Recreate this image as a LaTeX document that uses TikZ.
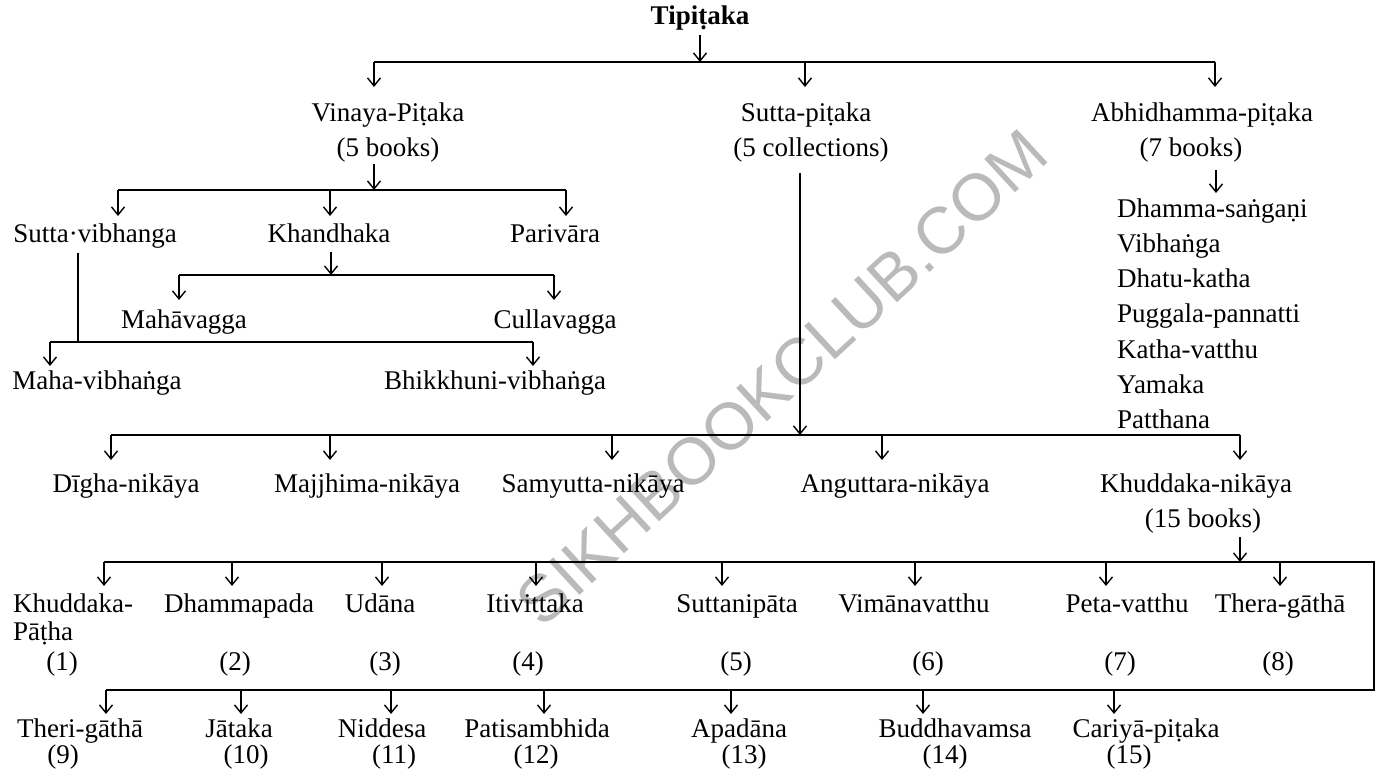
\documentclass[tikz,border=0pt]{standalone}
\usepackage{fontspec}
\setmainfont{Liberation Serif}
\newfontfamily\wmfont{Liberation Sans}
\usetikzlibrary{arrows.meta}
\begin{document}
\begin{tikzpicture}[x=1pt,y=-1pt,
  lbl/.style={inner sep=0pt, anchor=base, font=\fontsize{27}{33}\selectfont},
  lst/.style={lbl, anchor=base west},
  bar/.style={line width=2.6pt},
  stem/.style={line width=2.2pt},
  arr/.style={line width=1.4pt, -{Straight Barb[length=8pt,width=13pt,line width=1.4pt]}},
  stemarr/.style={line width=2.2pt, -{Straight Barb[length=8pt,width=13pt,line width=1.4pt]}}]
\fill[white] (0,0) rectangle (1375,775);
\useasboundingbox (0,0) rectangle (1375,775);
% watermark
\node[rotate=42.7, text=black!27, inner sep=0pt, font=\wmfont\fontsize{66}{66}\selectfont] (wm) at (782,378) {SIKHBOOKCLUB.COM};

% top
\node[lbl, font=\fontsize{27}{33}\selectfont\bfseries] (T) at (700,25) {Tipiṭaka};
\coordinate (ts) at (700,35);
\coordinate (tb) at (700,62);
\draw[arr] (ts) -- (tb);
\draw[bar] (374,62) -- (1215,62);
\node[lbl] (VP) at (388,122) {Vinaya-Piṭaka};
\node[lbl] (VPn) at (388,157) {(5 books)};
\node[lbl] (SP) at (806,122) {Sutta-piṭaka};
\node[lbl] (SPn) at (811,157) {(5 collections)};
\node[lbl] (AP) at (1202,122) {Abhidhamma-piṭaka};
\node[lbl] (APn) at (1191,157) {(7 books)};
\draw[arr] (374,62) -- (374,87);
\draw[arr] (805,62) -- (805,87);
\draw[arr] (1215,62) -- (1215,87);

% Vinaya branch
\draw[arr] (374,164) -- (374,190);
\draw[bar] (118,190) -- (566,190);
\node[lbl] (SV) at (95,243) {Sutta·vibhanga};
\node[lbl] (KH) at (329,243) {Khandhaka};
\node[lbl] (PV) at (555,243) {Parivāra};
\draw[arr] (118,190) -- (118,216);
\draw[arr] (330,190) -- (330,216);
\draw[arr] (566,190) -- (566,216);

\draw[arr] (331,252) -- (331,275);
\draw[bar] (179,275) -- (554,275);
\draw[arr] (179,275) -- (179,300);
\draw[arr] (554,275) -- (554,300);
\node[lbl] (MV) at (184,329) {Mahāvagga};
\node[lbl] (CV) at (555,329) {Cullavagga};

\draw[stem] (78,253) -- (78,342);
\draw[bar] (50,342) -- (533,342);
\draw[arr] (50,342) -- (50,366);
\draw[arr] (533,342) -- (533,366);
\node[lbl] (MHV) at (97,389) {Maha-vibhaṅga};
\node[lbl] (BV) at (495,389) {Bhikkhuni-vibhaṅga};

% Abhidhamma list
\draw[arr] (1216,170) -- (1216,193);
\node[lst] (A1) at (1117,218) {Dhamma-saṅgaṇi};
\node[lst] (A2) at (1117,253) {Vibhaṅga};
\node[lst] (A3) at (1117,288) {Dhatu-katha};
\node[lst] (A4) at (1117,323) {Puggala-pannatti};
\node[lst] (A5) at (1117,358) {Katha-vatthu};
\node[lst] (A6) at (1117,393) {Yamaka};
\node[lst] (A7) at (1117,428) {Patthana};

% Sutta branch
\draw[stemarr] (800,173) -- (800,435);
\draw[bar] (111,435) -- (1240,435);
\draw[arr] (111,435) -- (111,460);
\draw[arr] (330,435) -- (330,460);
\draw[arr] (612,435) -- (612,460);
\draw[arr] (882,435) -- (882,460);
\draw[arr] (1240,435) -- (1240,460);
\node[lbl] (N1) at (126,492) {Dīgha-nikāya};
\node[lbl] (N2) at (367,492) {Majjhima-nikāya};
\node[lbl] (N3) at (593,492) {Samyutta-nikāya};
\node[lbl] (N4) at (895,492) {Anguttara-nikāya};
\node[lbl] (N5) at (1196,492) {Khuddaka-nikāya};
\node[lbl] (N5n) at (1203,527) {(15 books)};

% Khuddaka books
\draw[arr] (1240,537) -- (1240,562);
\draw[bar] (104,562) -- (1374,562) -- (1374,690) -- (106,690);
\foreach \x in {104,232,382,536,722,915,1106,1280}
  \draw[arr] (\x,562) -- (\x,586);
\node[lst] (K1) at (13,612) {Khuddaka-};
\node[lst] (K1b) at (13,640) {Pāṭha};
\node[lbl] (K1n) at (62,670) {(1)};
\node[lbl] (K2) at (239,612) {Dhammapada};
\node[lbl] (K2n) at (235,670) {(2)};
\node[lbl] (K3) at (380,612) {Udāna};
\node[lbl] (K3n) at (385,670) {(3)};
\node[lbl] (K4) at (535,612) {Itivittaka};
\node[lbl] (K4n) at (528,670) {(4)};
\node[lbl] (K5) at (737,612) {Suttanipāta};
\node[lbl] (K5n) at (736,670) {(5)};
\node[lbl] (K6) at (914,612) {Vimānavatthu};
\node[lbl] (K6n) at (928,670) {(6)};
\node[lbl] (K7) at (1127,612) {Peta-vatthu};
\node[lbl] (K7n) at (1120,670) {(7)};
\node[lbl] (K8) at (1280,612) {Thera-gāthā};
\node[lbl] (K8n) at (1278,670) {(8)};

\foreach \x in {106,241,391,544,731,923,1114}
  \draw[arr] (\x,690) -- (\x,714);
\node[lbl] (K9) at (80,737) {Theri-gāthā};
\node[lbl] (K9n) at (63,763) {(9)};
\node[lbl] (K10) at (239,737) {Jātaka};
\node[lbl] (K10n) at (246,763) {(10)};
\node[lbl] (K11) at (382,737) {Niddesa};
\node[lbl] (K11n) at (394,763) {(11)};
\node[lbl] (K12) at (537,737) {Patisambhida};
\node[lbl] (K12n) at (536,763) {(12)};
\node[lbl] (K13) at (739,737) {Apadāna};
\node[lbl] (K13n) at (744,763) {(13)};
\node[lbl] (K14) at (955,737) {Buddhavamsa};
\node[lbl] (K14n) at (945,763) {(14)};
\node[lbl] (K15) at (1146,737) {Cariyā-piṭaka};
\node[lbl] (K15n) at (1129,763) {(15)};
\end{tikzpicture}
\end{document}
